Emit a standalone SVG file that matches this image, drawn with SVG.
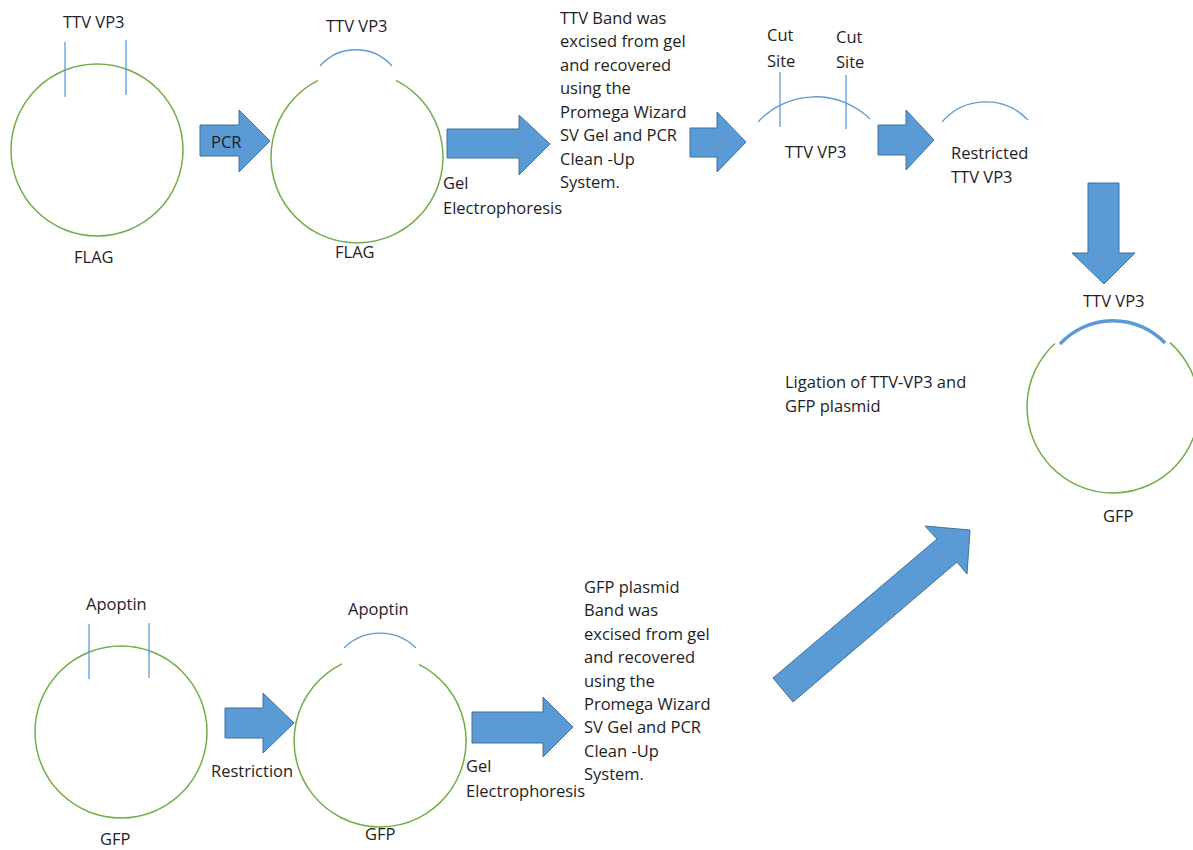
<svg xmlns="http://www.w3.org/2000/svg" width="1193" height="850" viewBox="0 0 1193 850">
<style>
text{font-family:"Open Sans","Liberation Sans",sans-serif;font-size:16.5px;fill:#1e1e1e}
.plasmid{fill:none;stroke:#70AD47;stroke-width:1.5}
.frag{fill:none;stroke:#5B9BD5;stroke-width:1.3}
.thick{fill:none;stroke:#5B9BD5;stroke-width:3.5}
.arrow{fill:#5B9BD5;stroke:#41719C;stroke-width:1}
</style>
<rect width="1193" height="850" fill="#ffffff"/>

<g id="flag-plasmid">
<circle class="plasmid" cx="97" cy="150" r="86"/>
<line class="frag" x1="65" y1="42" x2="65" y2="97"/>
<line class="frag" x1="126" y1="40" x2="126" y2="95"/>
<text x="63" y="28">TTV VP3</text>
<text x="74" y="263">FLAG</text>
</g>

<g id="flag-pcr">
<path class="plasmid" d="M 396 80.3 A 86 86 0 1 1 318 80.3"/>
<path class="frag" d="M 320 66 A 48 48 0 0 1 392 66"/>
<text x="326" y="32">TTV VP3</text>
<text x="335" y="258">FLAG</text>
</g>

<g id="gel-text-top">
<text x="560" y="24">TTV Band was</text>
<text x="560" y="47">excised from gel</text>
<text x="560" y="71">and recovered</text>
<text x="560" y="94">using the</text>
<text x="560" y="118">Promega Wizard</text>
<text x="560" y="141">SV Gel and PCR</text>
<text x="560" y="165">Clean -Up</text>
<text x="560" y="188">System.</text>
</g>

<g id="cut-sites">
<path class="frag" d="M 758 122 A 78 78 0 0 1 870 119"/>
<line class="frag" x1="780" y1="72" x2="780" y2="127"/>
<line class="frag" x1="846" y1="75" x2="846" y2="129"/>
<text x="767" y="41">Cut</text>
<text x="767" y="67">Site</text>
<text x="836" y="43">Cut</text>
<text x="836" y="68">Site</text>
<text x="785" y="158">TTV VP3</text>
</g>

<g id="restricted">
<path class="frag" d="M 942 122 A 58 58 0 0 1 1028 120"/>
<text x="951" y="159">Restricted</text>
<text x="951" y="183">TTV VP3</text>
</g>

<g id="gfp-ligated">
<path class="plasmid" d="M 1170 342.6 A 86 86 0 1 1 1055 343.5"/>
<path class="thick" d="M 1060 344 A 72 72 0 0 1 1165 343"/>
<text x="1083" y="307">TTV VP3</text>
<text x="1103" y="522">GFP</text>
</g>

<g id="ligation-text">
<text x="785" y="388">Ligation of TTV-VP3 and</text>
<text x="785" y="412">GFP plasmid</text>
</g>

<g id="gfp-apoptin">
<circle class="plasmid" cx="121" cy="732" r="86"/>
<line class="frag" x1="89" y1="624" x2="89" y2="679"/>
<line class="frag" x1="149" y1="623" x2="149" y2="678"/>
<text x="86" y="610">Apoptin</text>
<text x="100" y="845">GFP</text>
</g>

<g id="gfp-restricted">
<path class="plasmid" d="M 419 664.3 A 86 86 0 1 1 342 663.9"/>
<path class="frag" d="M 344 648 A 51 51 0 0 1 416 648"/>
<text x="348" y="615">Apoptin</text>
<text x="365" y="840">GFP</text>
</g>

<g id="gel-text-bottom">
<text x="584" y="593">GFP plasmid</text>
<text x="584" y="616">Band was</text>
<text x="584" y="640">excised from gel</text>
<text x="584" y="663">and recovered</text>
<text x="584" y="687">using the</text>
<text x="584" y="710">Promega Wizard</text>
<text x="584" y="733">SV Gel and PCR</text>
<text x="584" y="757">Clean -Up</text>
<text x="584" y="780">System.</text>
</g>

<g id="connectors">
<polygon class="arrow" points="200,125 239,125 239,110 270,141 239,172 239,156 200,156"/>
<text x="211" y="148">PCR</text>
<polygon class="arrow" points="447,129 519,129 519,115 550,144 519,175 519,158 447,158"/>
<text x="443" y="189">Gel</text>
<text x="443" y="214">Electrophoresis</text>
<polygon class="arrow" points="690,128 717,128 717,112 746,142 717,172 717,157 690,157"/>
<polygon class="arrow" points="878,125 906,125 906,110 934,140 906,170 906,155 878,155"/>
<polygon class="arrow" points="1088,183 1119,183 1119,253 1135,253 1104,284 1072,253 1088,253"/>
<polygon class="arrow" points="225,708 263,708 263,693 294,723 263,753 263,738 225,738"/>
<text x="211" y="777">Restriction</text>
<polygon class="arrow" points="472,712 543,712 543,697 573,727 543,757 543,743 472,743"/>
<text x="466" y="772">Gel</text>
<text x="466" y="797">Electrophoresis</text>
<polygon class="arrow" points="773,678 937,539 925,526 970,530 967,574 957,562 793,702"/>
</g>
</svg>
